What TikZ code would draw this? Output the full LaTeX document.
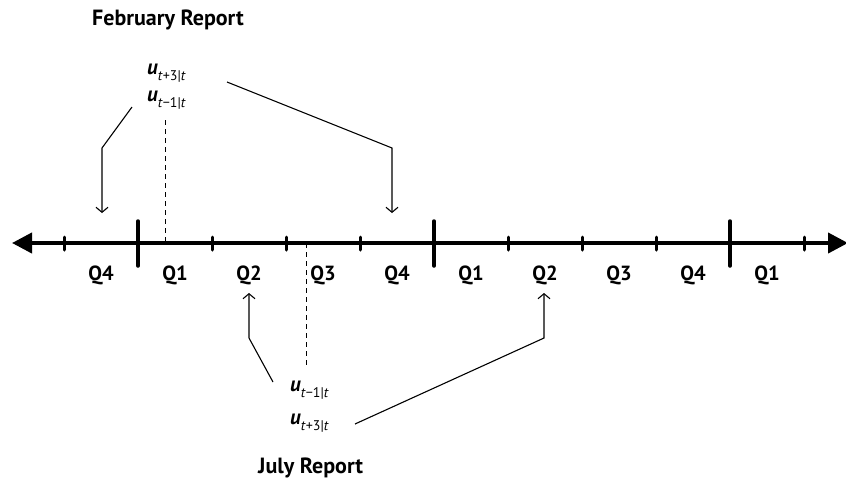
\documentclass[tikz,border=0pt]{standalone}
\usepackage{fontspec}
\setmainfont{PT Sans}
\usetikzlibrary{arrows.meta}
\newcommand\ulabel[1]{\textbf{\textit{u}}\raisebox{-0.3em}{\fontsize{14}{14}\selectfont\textit{t}#1|\textit{t}}}
\begin{document}
\begin{tikzpicture}[x=1pt,y=-1pt,
  axisline/.style={line width=4pt,{Triangle[length=20pt,width=20pt]}-{Triangle[length=20pt,width=20pt]}},
  majortick/.style={line width=3.5pt,line cap=round},
  minortick/.style={line width=3pt,line cap=round},
  qlab/.style={font=\fontsize{20.5}{22}\selectfont\bfseries,inner sep=0pt},
  titlelab/.style={font=\fontsize{22}{24}\selectfont\bfseries,anchor=west,inner sep=0pt},
  ulab/.style={anchor=west,inner sep=0pt,font=\fontsize{21}{22}\selectfont},
  conn/.style={line width=1.1pt,-{Straight Barb[length=5pt,width=12pt]}},
  guide/.style={line width=1pt,dash pattern=on 5pt off 4pt}]
\useasboundingbox (0,0) rectangle (846,483);
% axis
\coordinate (axL) at (12,243);
\coordinate (axR) at (848,243);
\draw[axisline] (axL) -- (axR);
\foreach \i in {0,2,3,4,6,7,8,10}{
  \draw[minortick] ({64+74*\i},237) -- ({64+74*\i},250);
}
\foreach \i in {1,5,9}{
  \draw[majortick] ({64+74*\i},221) -- ({64+74*\i},266);
}
% quarter labels
\foreach \q [count=\i from 0] in {Q4,Q1,Q2,Q3,Q4,Q1,Q2,Q3,Q4,Q1}{
  \node[qlab] (q\i) at ({101+74*\i},275) {\q};
}
% titles
\node[titlelab] (feb) at (92,20) {February Report};
\node[titlelab] (jul) at (258,468) {July Report};
% u labels
\node[ulab] (fp) at (147,73) {\ulabel{+3}};
\node[ulab] (fm) at (147,100) {\ulabel{\char"2212 1}};
\node[ulab] (jm) at (290,390) {\ulabel{\char"2212 1}};
\node[ulab] (jp) at (290,423) {\ulabel{+3}};
% dashed guides
\coordinate (dtA) at (165,120);
\coordinate (dtB) at (165,243);
\coordinate (dbA) at (306,243);
\coordinate (dbB) at (306,367);
\draw[guide] (dtA) -- (dtB);
\draw[guide] (dbA) -- (dbB);
% connectors
\coordinate (a1) at (132,107);
\coordinate (a2) at (102,148);
\coordinate (a3) at (102,213);
\draw[conn] (a1) -- (a2) -- (a3);
\coordinate (b1) at (227,82);
\coordinate (b2) at (392,148);
\coordinate (b3) at (392,213);
\draw[conn] (b1) -- (b2) -- (b3);
\coordinate (c1) at (273,382);
\coordinate (c2) at (249,338);
\coordinate (c3) at (249,293);
\draw[conn] (c1) -- (c2) -- (c3);
\coordinate (d1) at (355,424);
\coordinate (d2) at (544,338);
\coordinate (d3) at (544,293);
\draw[conn] (d1) -- (d2) -- (d3);
\end{tikzpicture}
\end{document}
